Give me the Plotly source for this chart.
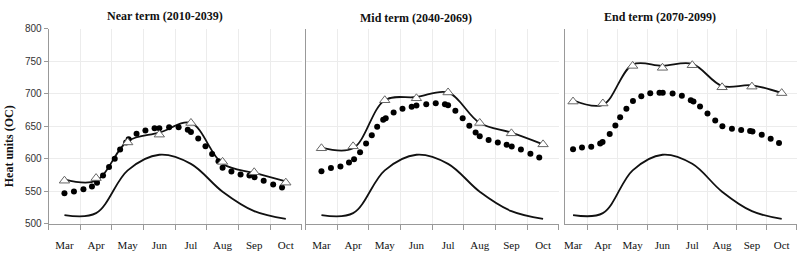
import plotly.graph_objects as go

months = ["Mar", "Apr", "May", "Jun", "Jul", "Aug", "Sep", "Oct"]
month_idx = list(range(len(months)))
panel_titles = ["Near term (2010-2039)", "Mid term (2040-2069)", "End term (2070-2099)"]
y_ticks = [500, 550, 600, 650, 700, 750, 800]

baseline = [513, 516, 582, 606, 592, 549, 519, 507]

near_line = [568, 566, 627, 640, 655, 592, 578, 565]
near_tri = [566, 570, 625, 637, 655, 595, 579, 563]
mid_line = [617, 616, 690, 695, 702, 655, 640, 622]
mid_tri = [616, 619, 690, 693, 702, 655, 639, 622]
end_line = [690, 683, 745, 743, 746, 712, 713, 701]
end_tri = [688, 685, 743, 740, 744, 710, 711, 701]

dot_pos = [0, 0.3, 0.6, 0.87, 1.03, 1.22, 1.41, 1.59, 1.76, 1.95, 2.03, 2.28, 2.56, 2.85, 3.0,
           3.31, 3.61, 3.9, 4.0, 4.23, 4.46, 4.67, 4.87, 5.0, 5.28, 5.57, 5.85, 6.01, 6.3, 6.6, 6.88]
near_dots = [546.5, 549.5, 553, 557, 563, 574, 587, 600, 614, 625, 630, 638.5, 643.5, 647, 647,
             648.5, 648.5, 644.5, 641, 631, 619, 607, 596, 586, 580, 575.7, 574, 571.3, 566, 560.3, 555.4]
mid_dots = [580.7, 585.6, 588, 594, 599.2, 610, 623.3, 636, 649.2, 660, 662.4, 671.2, 677, 680, 682,
            684, 685.4, 684, 682.5, 673.7, 662.4, 650.6, 640.3, 634.5, 628.6, 624.8, 621.3, 618.9, 614, 607.6, 601.7]
end_dot_pos = [0, 0.3, 0.61, 0.91, 0.99, 1.23, 1.42, 1.58, 1.79, 2.01, 2.29, 2.59, 2.9, 3.01, 3.34,
               3.65, 3.95, 4.04, 4.26, 4.51, 4.77, 5.01, 5.33, 5.64, 5.94, 6.02, 6.33, 6.63, 6.91]
end_dots = [614.5, 617, 618.4, 623.2, 625.7, 637.9, 651, 663.7, 676.9, 689, 696.3, 700.7, 701.7, 701.7, 700.3,
            696.8, 690, 688, 680.3, 669.6, 658.8, 650, 646.2, 644.2, 642.7, 641.8, 636.8, 630.6, 624.3]

panels = [
    (near_line, near_tri, dot_pos, near_dots),
    (mid_line, mid_tri, dot_pos, mid_dots),
    (end_line, end_tri, end_dot_pos, end_dots),
]

W, H = 800, 261
x_domains = [[47.7 / W, 301 / W], [305 / W, 558.6 / W], [565 / W, 796.6 / W]]
x_ranges = [[-0.5, 7.5], [-0.5, 7.5], [-0.26, 7.5]]
y_dom = [1 - 228 / H, 1 - 24 / H]
title_x = [164, 416, 660]
title_y = [11, 13, 12]

fig = go.Figure()
for i, (line, tri, dpos, dots) in enumerate(panels):
    xa = "x" if i == 0 else f"x{i+1}"
    ya = "y" if i == 0 else f"y{i+1}"
    fig.add_trace(go.Scatter(x=month_idx, y=baseline, mode="lines", xaxis=xa, yaxis=ya,
                             line=dict(color="#111", width=1.8, shape="spline", smoothing=1.0)))
    fig.add_trace(go.Scatter(x=month_idx, y=line, mode="lines", xaxis=xa, yaxis=ya,
                             line=dict(color="#111", width=1.8, shape="spline", smoothing=1.0)))
    fig.add_trace(go.Scatter(x=dpos, y=dots, mode="markers", xaxis=xa, yaxis=ya,
                             marker=dict(symbol="circle", size=6, color="#000")))
    fig.add_trace(go.Scatter(x=month_idx, y=tri, mode="markers", xaxis=xa, yaxis=ya,
                             marker=dict(symbol="triangle-up", size=9, color="white",
                                         line=dict(color="#666", width=1))))

    xkey = "xaxis" if i == 0 else f"xaxis{i+1}"
    ykey = "yaxis" if i == 0 else f"yaxis{i+1}"
    fig.layout[xkey] = dict(
        domain=x_domains[i], range=x_ranges[i], anchor=ya,
        tickvals=month_idx, ticktext=months, ticks="", showgrid=False,
        showline=True, linecolor="#999", linewidth=1, zeroline=False,
        tickfont=dict(family="Liberation Serif", size=11, color="#111"),
        ticklabelstandoff=11,
        minor=dict(tickvals=[m - 0.5 for m in month_idx] + [7.5], ticks="outside", ticklen=5,
                   tickcolor="#999", showgrid=True, gridcolor="#ececec", gridwidth=1),
    )
    fig.layout[ykey] = dict(
        domain=y_dom, range=[500, 800], anchor=xa,
        tickvals=y_ticks, showticklabels=(i == 0), ticks="outside" if i == 0 else "",
        ticklen=4, tickcolor="#999",
        showgrid=True, gridcolor="#ececec", gridwidth=1,
        showline=True, linecolor="#999", linewidth=1, zeroline=False,
        tickfont=dict(family="Liberation Sans", size=10, color="#333"),
    )
    fig.add_annotation(text="<b>" + panel_titles[i] + "</b>", x=title_x[i] / W, y=1 - title_y[i] / H,
                       xref="paper", yref="paper", showarrow=False, xanchor="center", yanchor="middle",
                       font=dict(family="Liberation Serif", size=12, color="#111"))

fig.add_annotation(text="<b>Heat units (OC)</b>", x=8 / W, y=1 - 147 / H, xref="paper", yref="paper",
                   showarrow=False, textangle=-90, xanchor="center", yanchor="middle",
                   font=dict(family="Liberation Serif", size=12, color="#111"))

fig.update_layout(width=W, height=H, margin=dict(l=0, r=0, t=0, b=0), showlegend=False,
                  paper_bgcolor="white", plot_bgcolor="white")
fig.write_html("out.html", config={"displayModeBar": False},
               post_script="document.body.style.margin='0';")
